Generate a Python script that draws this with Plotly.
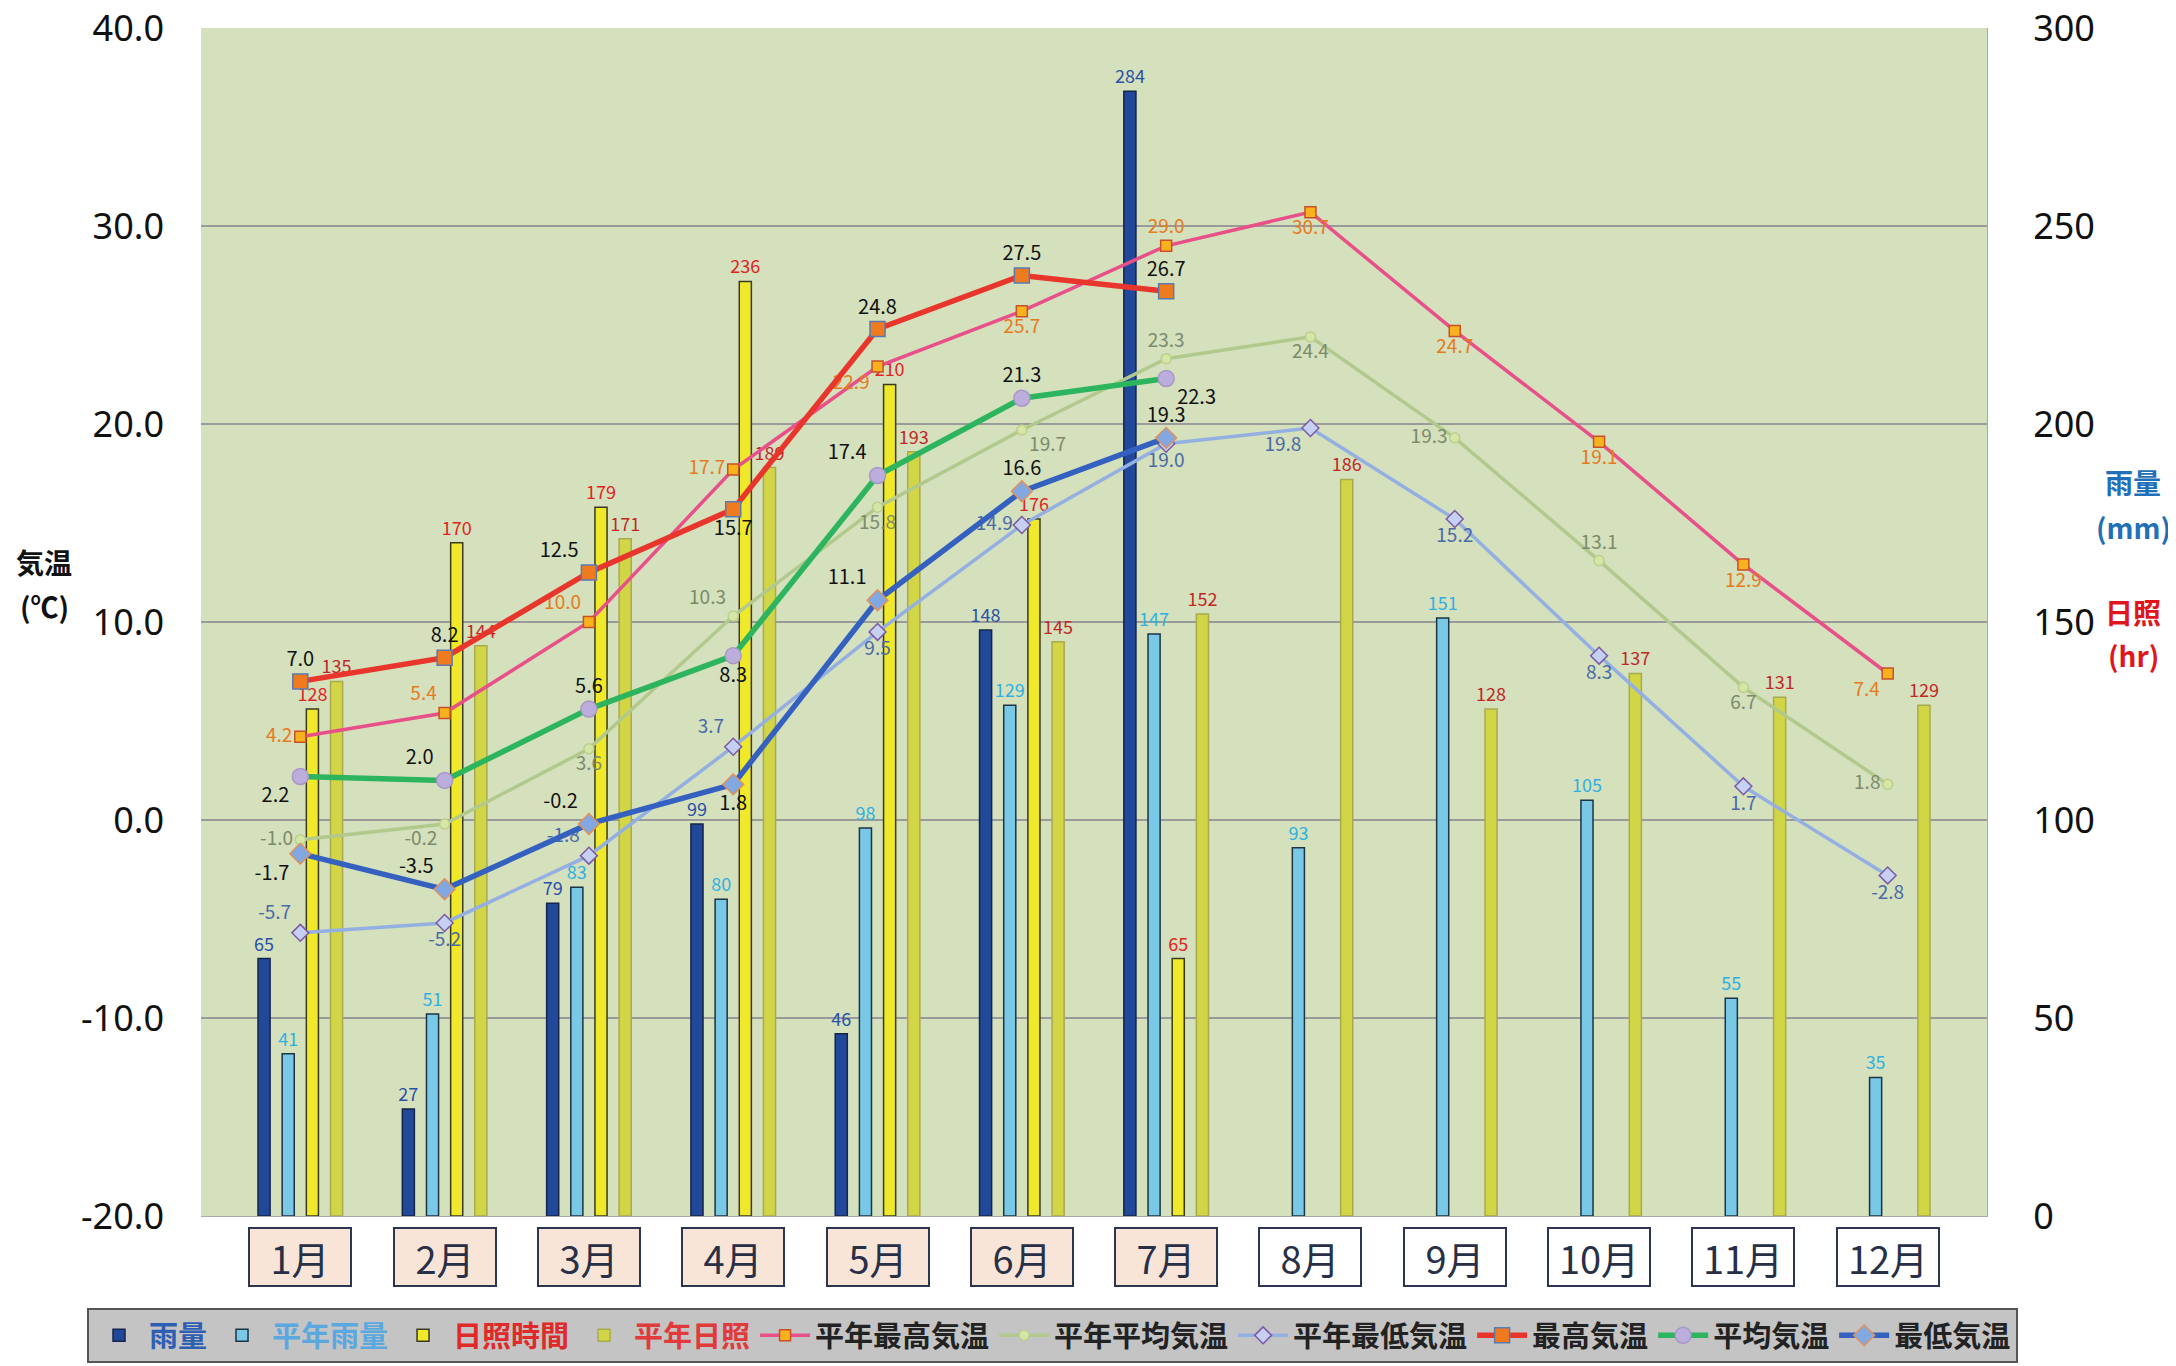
import plotly.graph_objects as go

months = ["1月", "2月", "3月", "4月", "5月", "6月", "7月", "8月", "9月", "10月", "11月", "12月"]

rain = [65, 27, 79, 99, 46, 148, 284, None, None, None, None, None]
rain_normal = [41, 51, 83, 80, 98, 129, 147, 93, 151, 105, 55, 35]
sun = [128, 170, 179, 236, 210, 176, 65, None, None, None, None, None]
sun_normal = [135, 144, 171, 189, 193, 145, 152, 186, 128, 137, 131, 129]

tmax_normal = [4.2, 5.4, 10.0, 17.7, 22.9, 25.7, 29.0, 30.7, 24.7, 19.1, 12.9, 7.4]
tavg_normal = [-1.0, -0.2, 3.6, 10.3, 15.8, 19.7, 23.3, 24.4, 19.3, 13.1, 6.7, 1.8]
tmin_normal = [-5.7, -5.2, -1.8, 3.7, 9.5, 14.9, 19.0, 19.8, 15.2, 8.3, 1.7, -2.8]
tmax = [7.0, 8.2, 12.5, 15.7, 24.8, 27.5, 26.7, None, None, None, None, None]
tavg = [2.2, 2.0, 5.6, 8.3, 17.4, 21.3, 22.3, None, None, None, None, None]
tmin = [-1.7, -3.5, -0.2, 1.8, 11.1, 16.6, 19.3, None, None, None, None, None]

temp_ticks = [-20, -10, 0, 10, 20, 30, 40]
temp_ticktext = ["-20.0", "-10.0", "0.0", "10.0", "20.0", "30.0", "40.0"]

pos_tmax = ["top center", "top center", "top left", "bottom center", "top center", "top center", "top center"]
pos_tavg = ["bottom left", "top left", "top center", "bottom center", "top left", "top center", "bottom right"]
pos_tmin = ["bottom left", "top left", "top left", "bottom center", "top left", "top center", "top center"]
pos_tmax_n = ["middle left", "top left", "top left", "middle left", "bottom left", "bottom center",
              "top center", "bottom center", "bottom center", "bottom center", "bottom center", "bottom left"]
pos_tavg_n = ["middle left", "bottom left", "bottom center", "top left", "bottom center", "bottom right",
              "top center", "bottom center", "middle left", "top center", "bottom center", "middle left"]
pos_tmin_n = ["top left", "bottom center", "top left", "top left", "bottom center", "middle left",
              "bottom center", "bottom left", "bottom center", "bottom center", "bottom center", "bottom center"]

JP = "Noto Sans CJK JP"


def fmt1(v):
    return [("" if x is None else f"{x:.1f}") for x in v]


def fmt0(v):
    return [("" if x is None else f"{x}") for x in v]


fig = go.Figure()

# bars (primary y, right side 0-300)
bar_specs = [
    ("<span style='color:#2f5fb3'>雨量</span>", rain, "#22489a", "#14244a", "#2a50a8"),
    ("<span style='color:#5aa8e0'>平年雨量</span>", rain_normal, "#78c8e6", "#1c3444", "#2fb0e2"),
    ("<span style='color:#e02a2a'>日照時間</span>", sun, "#f0e82a", "#3a3a20", "#e02424"),
    ("<span style='color:#e03a3a'>平年日照</span>", sun_normal, "#d2d646", "#a8aa50", "#c02828"),
]
for name, vals, col, line, tcol in bar_specs:
    fig.add_trace(go.Bar(
        x=months, y=vals, name=name, yaxis="y",
        marker=dict(color=col, line=dict(color=line, width=1.5)),
        text=fmt0(vals), textposition="outside", cliponaxis=False, constraintext="none",
        textfont=dict(color=tcol, size=18, family=JP),
    ))

# lines (y2, left side -20..40)
line_specs = [
    ("平年最高気温", tmax_normal, "#e8508a", 3.5, "square", 11, "#f7b21e", "#c8502a", "#e67a1e", pos_tmax_n, 19),
    ("平年平均気温", tavg_normal, "#b2c98e", 3.5, "circle", 10, "#d6e6a6", "#bcd08c", "#7c8a6c", pos_tavg_n, 19),
    ("平年最低気温", tmin_normal, "#94b0e2", 3.5, "diamond", 13, "#c6d0f2", "#7a5aa6", "#4a6aa8", pos_tmin_n, 19),
    ("最高気温", tmax, "#e8362c", 5.5, "square", 15, "#f07a1e", "#5a7ab0", "#111111", pos_tmax, 20),
    ("平均気温", tavg, "#2cb45e", 5.5, "circle", 16, "#bcaedc", "#a898c8", "#111111", pos_tavg, 20),
    ("最低気温", tmin, "#3460c0", 5.5, "diamond", 16, "#82a8e2", "#e0905a", "#111111", pos_tmin, 20),
]
for name, vals, lcol, lw, sym, ms, mcol, mline, tcol, tpos, fs in line_specs:
    fig.add_trace(go.Scatter(
        x=months, y=vals, name=name, yaxis="y2", mode="lines+markers+text",
        line=dict(color=lcol, width=lw),
        marker=dict(symbol=sym, size=ms, color=mcol, line=dict(color=mline, width=1.5)),
        text=fmt1(vals), textposition=tpos, cliponaxis=False,
        textfont=dict(color=tcol, size=fs, family=JP),
    ))

annotations = []
for i, m in enumerate(months):
    annotations.append(dict(
        x=m, xref="x", y=-0.0345, yref="paper", yanchor="middle", xanchor="center",
        text=m, showarrow=False, width=100, height=56,
        bgcolor="#f8e5d8" if i < 7 else "#ffffff",
        bordercolor="#2c3650", borderwidth=2, borderpad=0,
        font=dict(size=38, color="#283048", family=JP),
    ))

# axis titles placed in pixel units, converted below
titles = [
    (44, 562, "<b>気温</b>", "#111"),
    (44, 606, "<b>(℃)</b>", "#111"),
    (2133, 482, "<b>雨量</b>", "#1f70b8"),
    (2133, 527, "<b>(mm)</b>", "#1f70b8"),
    (2133, 612, "<b>日照</b>", "#e0161c"),
    (2133, 656, "<b>(hr)</b>", "#e0161c"),
]

L, R, T, B = 193, 197, 20, 157
OFF = 8  # page offset of the plot div
W, H = 2176, 1366
pw, ph = W - L - R, H - T - B
for px, py, txt, col in titles:
    annotations.append(dict(
        x=(px - OFF - L) / pw, y=(H - B - (py - OFF)) / ph, xref="paper", yref="paper",
        xanchor="center", yanchor="middle", text=txt, showarrow=False,
        font=dict(size=28, color=col, family=JP),
    ))

fig.update_layout(
    width=W, height=H,
    margin=dict(l=L, r=R, t=T, b=B),
    paper_bgcolor="white",
    plot_bgcolor="#d5e0bc",
    barmode="group", bargap=0.33, bargroupgap=0.5,
    font=dict(family=JP, color="#111"),
    xaxis=dict(type="category", showticklabels=False, showgrid=False, ticks="",
               showline=True, linecolor="#aaaaaa", linewidth=1, automargin=False),
    yaxis=dict(range=[0, 300], dtick=50, side="right", showgrid=True, gridcolor="#9a9a9a",
               gridwidth=1.5, zeroline=False, ticks="", ticklabelstandoff=38,
               ticklabeloverflow="allow", automargin=False,
               tickfont=dict(size=36, color="#111", family="Noto Sans"),
               showline=True, linecolor="#aaaaaa"),
    yaxis2=dict(range=[-20, 40], tickvals=temp_ticks, ticktext=temp_ticktext, side="left",
                overlaying="y", showgrid=False, zeroline=False, ticks="", ticklabelstandoff=36,
                ticklabeloverflow="allow", automargin=False,
                tickfont=dict(size=36, color="#111", family="Noto Sans")),
    legend=dict(orientation="h", x=(87 - OFF - L) / pw, xanchor="left",
                y=-((1308 - OFF) - (H - B)) / ph, yanchor="top",
                bgcolor="#c4c4c4", bordercolor="#555555", borderwidth=2,
                font=dict(size=29, color="#222", family=JP, weight="bold"),
                itemwidth=50, traceorder="normal", tracegroupgap=0),
    annotations=annotations,
    showlegend=True,
)

fig.write_html("out.html")
